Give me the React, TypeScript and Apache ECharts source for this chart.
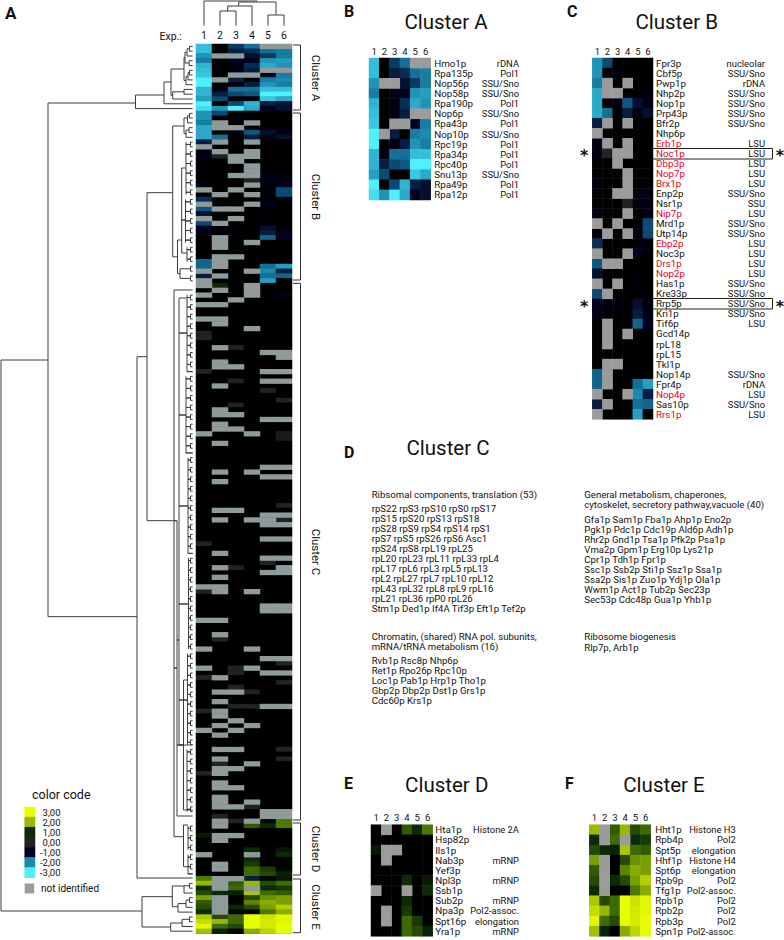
import React, { useEffect, useRef } from "react";
import * as echarts from "echarts";

const G = null; // not identified
const K = -0.5; // black cell
const D = 0; // dark grey cell

const experiments = ["1", "2", "3", "4", "5", "6"];

const clusterAGenes = ["Hmo1p", "Rpa135p", "Nop56p", "Nop58p", "Rpa190p", "Nop6p", "Rpa43p", "Nop10p", "Rpc19p", "Rpa34p", "Rpc40p", "Snu13p", "Rpa49p", "Rpa12p"];
const clusterANotes = ["rDNA", "Pol1", "SSU/Sno", "SSU/Sno", "Pol1", "SSU/Sno", "Pol1", "SSU/Sno", "Pol1", "Pol1", "Pol1", "SSU/Sno", "Pol1", "Pol1"];
const clusterARows = [
  [-2.5, K, -1.4, -1.8, G, G],
  [-2.5, K, -1.2, -1.3, -1.8, -1.9],
  [-2.1, G, G, -1.1, -1.4, -1.9],
  [-1.9, K, -1, -1, -2.1, -2.2],
  [-2.4, K, -0.7, -1.3, -2.3, -2.1],
  [-2.5, K, -0.8, -1.2, G, G],
  [-2.6, K, G, G, -1, -1.9],
  [-3, G, -1.2, K, -1.9, -2],
  [-3, K, -0.7, -1.2, -2.1, -1.9],
  [-2.4, -0.8, -1.8, -1.8, -2.5, -2.5],
  [-2.4, -1.2, -1.5, -1.6, -3, -3],
  [-2.2, -1.5, K, K, -2.6, -2.3],
  [-3, K, -1.5, -2.4, -1.2, -1.1],
  [-2.8, -2.1, -3, -2.3, -1, -1.1],
];

const clusterBGenes = ["Fpr3p", "Cbf5p", "Pwp1p", "Nhp2p", "Nop1p", "Prp43p", "Bfr2p", "Nhp6p", "Erb1p", "Noc1p", "Dbp3p", "Nop7p", "Brx1p", "Enp2p", "Nsr1p", "Nip7p", "Mrd1p", "Utp14p", "Ebp2p", "Noc3p", "Drs1p", "Nop2p", "Has1p", "Kre33p", "Rrp5p", "Kri1p", "Tif6p", "Gcd14p", "rpL18", "rpL15", "Tkl1p", "Nop14p", "Fpr4p", "Nop4p", "Sas10p", "Rrs1p"];
const clusterBNotes = ["nucleolar", "SSU/Sno", "rDNA", "SSU/Sno", "SSU/Sno", "SSU/Sno", "SSU/Sno", "", "LSU", "LSU", "LSU", "LSU", "LSU", "SSU/Sno", "SSU", "LSU", "SSU/Sno", "SSU/Sno", "LSU", "LSU", "LSU", "LSU", "SSU/Sno", "SSU/Sno", "SSU/Sno", "SSU/Sno", "LSU", "", "", "", "", "SSU/Sno", "rDNA", "LSU", "SSU/Sno", "LSU"];
const clusterBRed = ["Erb1p", "Noc1p", "Dbp3p", "Nop7p", "Brx1p", "Nip7p", "Ebp2p", "Drs1p", "Nop2p", "Nop4p", "Rrs1p"];
const clusterBRows = [
  [-2.1, -1.5, K, -0.7, K, K],
  [-2.1, -0.6, -0.7, K, K, K],
  [-1.9, G, K, G, K, K],
  [-2.3, G, G, K, -0.7, -0.7],
  [-2.3, K, -0.8, -1.6, -1.1, -0.8],
  [-2.3, -1.8, K, -1.2, -0.8, -1.1],
  [-1.2, G, K, G, K, K],
  [G, K, K, K, K, K],
  [-0.8, G, K, G, K, K],
  [-0.8, D, G, G, K, K],
  [K, K, G, K, K, K],
  [K, K, K, G, K, K],
  [-0.7, K, K, G, K, K],
  [K, K, G, G, -0.8, -0.8],
  [K, K, K, D, -0.8, -0.8],
  [-0.8, K, K, G, K, -0.8],
  [G, K, G, K, -0.7, -1.5],
  [-0.6, G, K, G, -0.7, -1.5],
  [-1.3, K, K, K, -0.7, -0.7],
  [G, K, K, G, -1, K],
  [-1.6, G, G, K, K, K],
  [-1.1, K, K, K, K, K],
  [G, K, G, K, -0.7, K],
  [-1.5, G, K, K, K, K],
  [-1, -0.6, -0.7, -0.6, -1.1, -0.6],
  [-0.8, -0.6, K, K, -1.2, -0.9],
  [K, G, K, K, -1.7, -1],
  [K, G, K, G, K, K],
  [K, G, K, K, K, K],
  [K, K, K, K, K, K],
  [K, G, G, K, K, K],
  [-1.7, G, K, K, K, K],
  [-1.7, G, K, K, -1.8, -2.2],
  [G, K, K, G, -2, -1.2],
  [-1.2, G, K, K, -1.8, -1.7],
  [G, K, K, K, -2.2, K],
];

const clusterCRows = [
  [G, 1, K, G, K, K], [K, G, K, G, K, K], [G, K, K, G, K, -0.9], [K, K, G, K, K, K],
  [G, G, K, K, K, K], [K, K, K, K, K, K], [K, K, K, K, K, K], [G, G, K, K, K, K],
  [K, G, K, K, K, K], [K, K, K, G, K, K], [D, K, K, K, K, K], [D, K, K, K, K, K],
  [K, K, K, K, K, K], [K, G, D, K, K, K], [K, K, K, K, G, G], [K, K, K, K, K, G],
  [K, G, K, K, K, K], [K, G, G, K, K, K], [D, K, K, K, G, G], [K, K, K, K, K, K],
  [K, K, D, K, G, G], [K, G, K, K, K, K], [K, K, K, K, D, K], [K, K, K, K, K, K],
  [K, K, K, K, K, D], [K, K, D, K, K, K], [K, G, K, K, K, K], [K, G, G, K, K, K],
  [K, K, K, K, G, G], [K, G, K, K, K, K], [K, G, G, K, K, K], [G, K, K, G, K, 0.1],
  [K, K, K, K, K, 0.1], [K, G, K, K, K, K], [K, K, K, K, K, K], [K, K, K, K, K, K],
  [K, K, K, K, K, K], [K, K, K, K, K, K], [K, K, K, K, G, G], [K, G, K, G, K, K],
  [K, K, K, K, G, G], [K, G, K, K, K, K], [K, K, K, K, K, K], [K, K, K, K, K, K],
  [K, K, K, K, K, K], [K, K, K, K, K, K], [K, K, K, K, K, D], [K, G, G, K, K, K],
  [K, K, K, K, G, G], [K, G, K, G, G, D], [K, K, K, K, G, G], [K, K, K, K, K, K],
  [K, K, K, K, K, K], [K, K, K, K, G, G], [D, K, K, K, K, K], [K, K, K, K, K, K],
  [K, G, K, K, K, K], [K, K, K, K, G, G], [K, K, K, K, D, K], [K, G, D, K, K, G],
  [K, K, K, K, G, G], [K, G, K, K, K, K], [K, K, K, K, K, K], [G, G, K, K, K, K],
  [D, G, K, G, K, K], [K, K, K, K, K, K], [K, K, K, K, K, K], [K, K, K, K, G, G],
  [K, K, K, K, G, G], [K, K, K, K, K, K], [G, G, K, K, K, K], [K, K, K, K, K, K],
  [K, K, K, K, K, K], [K, G, K, K, K, K], [K, D, K, K, K, K], [K, K, K, K, K, K],
  [G, K, K, G, K, K], [K, K, K, K, K, K], [K, K, K, K, G, G], [K, K, K, K, K, D],
  [G, K, D, G, K, K], [K, K, D, K, G, G], [D, G, K, K, K, K], [K, K, K, K, K, D],
  [K, K, D, K, K, K], [K, G, G, D, K, K], [K, K, K, K, K, K], [K, G, K, K, K, K],
  [K, K, D, D, G, G], [D, G, K, K, K, K], [K, G, K, K, K, K], [K, K, G, K, K, K],
  [K, G, K, G, K, K], [G, K, G, K, K, K], [K, G, K, K, K, K], [K, K, K, K, K, K],
  [K, K, K, K, K, K], [K, G, G, K, K, D], [K, K, K, K, K, K], [K, G, K, K, K, D],
  [K, D, K, G, K, K], [K, G, G, K, K, K], [D, G, K, K, K, K], [K, K, K, K, K, K],
  [K, G, K, K, K, K], [K, G, G, K, K, K], [K, K, K, K, K, K], [K, G, K, K, K, K],
  [K, G, K, G, K, K], [K, G, G, D, K, K], [K, K, K, K, G, G], [K, D, K, K, G, G],
];
const clusterCTailRow = [K, G, D, G, K, 1.5];

const clusterDGenes = ["Hta1p", "Hsp82p", "Ils1p", "Nab3p", "Yef3p", "Npl3p", "Ssb1p", "Sub2p", "Npa3p", "Spt16p", "Yra1p"];
const clusterDNotes = ["Histone 2A", "", "", "mRNP", "", "mRNP", "", "mRNP", "Pol2-assoc.", "elongation", "mRNP"];
const clusterDRows = [
  [K, G, K, 1.3, 1, 1.5],
  [K, K, K, K, K, K],
  [0.8, G, G, K, K, K],
  [K, G, K, K, K, K],
  [K, K, K, K, K, K],
  [K, K, K, 1, K, 0.8],
  [G, K, K, G, K, 1],
  [K, K, K, 1, K, K],
  [K, G, K, 1.1, K, K],
  [K, G, K, 1.4, 1.1, K],
  [K, K, K, 1.4, 1.2, 0.9],
];
const clusterDTailRow = [1.5, G, G, -1.2, K, 0.8];

const clusterEGenes = ["Hht1p", "Rpb4p", "Spt5p", "Hhf1p", "Spt6p", "Rpb9p", "Tfg1p", "Rpb1p", "Rpb2p", "Rpb3p", "Spn1p"];
const clusterENotes = ["Histone H3", "Pol2", "elongation", "Histone H4", "elongation", "Pol2", "Pol2-assoc.", "Pol2", "Pol2", "Pol2", "Pol2-assoc."];
const clusterERows = [
  [2, G, 1.3, 2, 1.2, 1.4],
  [1, G, 1.4, G, 1, 1.1],
  [1.2, 1, 0.9, 2.2, 1.4, 1.3],
  [1.8, G, K, 1.2, 1.7, 1.8],
  [1.3, G, K, 1.6, 1.9, 1.8],
  [1.2, G, 1, 1.2, 1.8, 2.3],
  [1, G, K, K, 1.5, 1.9],
  [2.2, 1.2, 1.4, 3, 2.6, 2.9],
  [2.5, 2, 1.4, 3, 2.7, 2.9],
  [2.9, 1.4, 1.2, 3, 2.7, 3],
  [2.1, 0.9, K, 1.9, 2.4, 3],
];

const legendValues = [3, 2, 1, 0, -1, -2, -3];
const legendLabels = ["3,00", "2,00", "1,00", "0,00", "-1,00", "-2,00", "-3,00"];
const scaleColors = ["#4ff0fa", "#35bedb", "#1a8aae", "#0b4a74", "#01011f", "#000000", "#222222", "#000000", "#0b2a05", "#4a7a00", "#9ab800", "#c6dc00", "#e8ff00"];

const ribosomalLines = ["rpS22 rpS3 rpS10 rpS0 rpS17", "rpS15 rpS20 rpS13 rpS18", "rpS28 rpS9 rpS4 rpS14 rpS1", "rpS7 rpS5 rpS26 rpS6 Asc1", "rpS24 rpS8 rpL19 rpL25", "rpL20 rpL23 rpL11 rpL33 rpL4", "rpL17 rpL6 rpL3 rpL5 rpL13", "rpL2 rpL27 rpL7 rpL10 rpL12", "rpL43 rpL32 rpL8 rpL9 rpL16", "rpL21 rpL36 rpP0 rpL26", "Stm1p Ded1p If4A Tif3p Eft1p Tef2p"];
const metabolismLines = ["Gfa1p Sam1p Fba1p Ahp1p Eno2p", "Pgk1p Pdc1p Cdc19p Ald6p Adh1p", "Rhr2p Gnd1p Tsa1p Pfk2p Psa1p", "Vma2p Gpm1p Erg10p Lys21p", "Cpr1p Tdh1p Fpr1p", "Ssc1p Ssb2p Sti1p Ssz1p Ssa1p", "Ssa2p Sis1p Zuo1p Ydj1p Ola1p", "Wwm1p Act1p Tub2p Sec23p", "Sec53p Cdc48p Gua1p Yhb1p"];
const chromatinLines = ["Rvb1p Rsc8p Nhp6p", "Ret1p Rpo26p Rpc10p", "Loc1p Pab1p Hrp1p Tho1p", "Gbp2p Dbp2p Dst1p Grs1p", "Cdc60p Krs1p"];

// dendrogram merges: [node position, first child, second child, first child depth, second child depth]
const leftTreeMerges = [
  [1, 360, 911, 48, 142],
  [48, 103, 616.7, 135.5, 137],
  [135.5, 95, 108.6, 164, 192.7],
  [164, 82, 103.8, 171, 192.7],
  [171, 69, 95.4, 184, 172.7],
  [172.7, 91.8, 99, 184, 192.7],
  [184, 89.4, 94.2, 192.7, 192.7],
  [184, 57.7, 80.5, 185, 186],
  [185, 52.4, 63, 187, 189],
  [187, 48.8, 56, 189.5, 192.7],
  [189.5, 46.4, 51.2, 192.7, 192.7],
  [189, 60.7, 65.5, 192.7, 192.7],
  [186, 76.3, 84.7, 188, 192.7],
  [188, 72.7, 79.9, 189.5, 192.7],
  [189.5, 70.3, 75.1, 192.7, 192.7],
  [137, 356.7, 878, 147, 192.7],
  [147, 192.7, 520.7, 172.7, 177],
  [172.7, 126, 256.8, 184, 177.5],
  [184, 118, 133.6, 187.5, 186],
  [187.5, 115.8, 122.9, 189.5, 192.7],
  [189.5, 113.4, 118.1, 192.7, 192.7],
  [186, 130, 137.3, 189, 192.7],
  [189, 127.7, 132.5, 192.7, 192.7],
  [177.5, 240, 273.6, 181.7, 180],
  [181.7, 168, 253, 186, 187],
  [181.7, 220, 220, 185.5, 185.5],
  [180, 268.8, 278.4, 190.5, 190.5],
  [190.5, 266.4, 271.2, 192.7, 192.7],
  [190.5, 276, 280.8, 192.7, 192.7],
  [174, 290, 836.7, 192.7, 183.5],
  [177, 520.7, 816, 174, 192.7],
  [174, 668, 668, 177, 177],
  [179, 298, 745, 186.5, 192.7],
  [177, 640, 640, 179, 179],
  [179, 333, 333, 187, 187],
  [179, 415, 415, 186, 186],
  [179, 506, 506, 188, 188],
  [179, 604, 604, 188.5, 188.5],
  [179, 700, 700, 187.5, 187.5],
  [177, 745, 745, 183.5, 183.5],
  [183.5, 680, 810, 187, 192.7],
  [183.5, 825, 866.7, 188, 188],
  [142, 896.7, 927, 172.3, 170.7],
  [172.3, 886, 906.7, 184, 178],
  [184, 885.8, 893, 189.5, 192.7],
  [189.5, 883.4, 888.2, 192.7, 192.7],
  [178, 903.6, 912.1, 186, 192.7],
  [186, 900, 907.3, 189.5, 192.7],
  [189.5, 897.7, 902.5, 192.7, 192.7],
  [170.7, 923, 931.2, 182, 192.7],
  [182, 919.3, 926.5, 189.5, 192.7],
  [189.5, 916.9, 921.7, 192.7, 192.7],
];
// [depth of the spine, first leaf row, last leaf row]
const leafGroups = [
  [186, 20, 31],
  [185.5, 32, 41],
  [187, 42, 45],
  [187, 52, 68],
  [186, 69, 85],
  [188, 86, 106],
  [188.5, 107, 126],
  [187.5, 127, 146],
  [187, 147, 160],
  [188, 163, 168],
  [188, 169, 173],
];
const topTreeMerges = [
  [1, 204, 257, 25.7, 2],
  [2, 238.7, 276, 6, 15],
  [6, 227.7, 252, 11, 25.7],
  [11, 220, 236, 25.7, 25.7],
  [15, 268, 284, 25.7, 25.7],
];

const FONT = "Roboto";
const INK = "#111111";
const mainTop = 44;
const rowH = 4.783;
const rowY = (r: number) => mainTop + rowH * (r + 0.5);

function leafMerges() {
  const out: number[][] = [];
  for (const [sx, a, b] of leafGroups) {
    out.push([sx, rowY(a), rowY(b), sx, sx]);
    for (let r = a; r <= b; r += 2) {
      if (r < b) {
        out.push([190.5, rowY(r), rowY(r + 1), 192.7, 192.7]);
        const m = (rowY(r) + rowY(r + 1)) / 2;
        out.push([sx, m, m, 190.5, 190.5]);
      } else {
        out.push([sx, rowY(r), rowY(r), 192.7, 192.7]);
      }
    }
  }
  return out;
}

const toCells = (rows: (number | null)[][]) => {
  const vals: number[][] = [];
  const gray: number[][] = [];
  rows.forEach((row, y) =>
    row.forEach((v, x) => {
      if (v === null) gray.push([x, y, 1]);
      else vals.push([x, y, v]);
    }),
  );
  return { vals, gray };
};

const mainRows = [...clusterARows, ...clusterBRows, ...clusterCRows, clusterCTailRow, ...clusterDRows, clusterDTailRow, ...clusterERows];
const mainLabels = mainRows.map((_, i) => String(i));

const panels = [
  { rows: clusterARows, genes: clusterAGenes, notes: clusterANotes, left: 369, top: 58, w: 61.7, h: 142, nameM: 3.5, noteM: 88.3, red: [] as string[] },
  { rows: clusterBRows, genes: clusterBGenes, notes: clusterBNotes, left: 592.3, top: 58, w: 60.7, h: 361.3, nameM: 3, noteM: 112, red: clusterBRed },
  { rows: clusterDRows, genes: clusterDGenes, notes: clusterDNotes, left: 371, top: 824.7, w: 61.7, h: 111.6, nameM: 2.5, noteM: 86.3, red: [] as string[] },
  { rows: clusterERows, genes: clusterEGenes, notes: clusterENotes, left: 589.3, top: 824.7, w: 61.4, h: 111.6, nameM: 4.5, noteM: 85, red: [] as string[] },
];

function txt(text: string, x: number, y: number, size: number, extra: any = {}) {
  return {
    type: "text",
    x,
    y,
    rotation: extra.rotation ?? 0,
    silent: true,
    style: {
      text,
      fill: extra.fill ?? INK,
      font: `${extra.weight ?? "normal"} ${size}px ${extra.family ?? FONT}`,
      textAlign: extra.align ?? "left",
      textVerticalAlign: "middle",
    },
  };
}

function buildOption() {
  const hidden = { show: false };
  const grid: any[] = [{ left: 0, top: 0, width: 784, height: 940 }];
  const xAxis: any[] = [{ type: "value", gridIndex: 0, min: 0, max: 784, show: false }];
  const yAxis: any[] = [{ type: "value", gridIndex: 0, min: 0, max: 940, inverse: true, show: false }];
  const series: any[] = [];

  series.push({
    type: "custom",
    xAxisIndex: 0,
    yAxisIndex: 0,
    clip: false,
    silent: true,
    encode: { x: [0, 3, 4], y: [1, 2] },
    data: [...leftTreeMerges, ...leafMerges()],
    renderItem: (_: any, api: any) => {
      const [x, y1, y2, c1, c2] = [0, 1, 2, 3, 4].map((i) => api.value(i));
      const pts = [[c1, y1], [x, y1], [x, y2], [c2, y2]].map((p) => api.coord(p));
      return { type: "polyline", silent: true, shape: { points: pts }, style: { stroke: "#3c3c3c", lineWidth: 1, fill: "none" } };
    },
  });
  series.push({
    type: "custom",
    xAxisIndex: 0,
    yAxisIndex: 0,
    clip: false,
    silent: true,
    encode: { y: [0, 3, 4], x: [1, 2] },
    data: topTreeMerges,
    renderItem: (_: any, api: any) => {
      const [y, x1, x2, c1, c2] = [0, 1, 2, 3, 4].map((i) => api.value(i));
      const pts = [[x1, c1], [x1, y], [x2, y], [x2, c2]].map((p) => api.coord(p));
      return { type: "polyline", silent: true, shape: { points: pts }, style: { stroke: "#3c3c3c", lineWidth: 1, fill: "none" } };
    },
  });

  const mapped: number[] = [];
  const grayMain: number[] = [];
  const grayPanel: number[] = [];
  const addHeat = (cells: { vals: number[][]; gray: number[][] }, xi: number, yi: number, grayList: number[]) => {
    mapped.push(series.length);
    series.push({ type: "heatmap", xAxisIndex: xi, yAxisIndex: yi, data: cells.vals, silent: true, progressive: 0, emphasis: { disabled: true } });
    grayList.push(series.length);
    series.push({ type: "heatmap", xAxisIndex: xi, yAxisIndex: yi, data: cells.gray, silent: true, progressive: 0, emphasis: { disabled: true } });
  };

  // main matrix
  grid.push({ left: 196, top: mainTop, width: 96, height: rowH * mainRows.length, show: true, backgroundColor: "#000", borderWidth: 0 });
  xAxis.push({
    type: "category", gridIndex: 1, position: "top", data: experiments,
    axisLine: hidden, axisTick: hidden, splitLine: hidden,
    axisLabel: { interval: 0, margin: 3, fontFamily: FONT, fontSize: 10.5, color: INK },
  });
  yAxis.push({ type: "category", gridIndex: 1, inverse: true, data: mainLabels, show: false });
  addHeat(toCells(mainRows), 1, 1, grayMain);

  // detail panels
  panels.forEach((p) => {
    const gi = grid.length;
    grid.push({ left: p.left, top: p.top, width: p.w, height: p.h });
    xAxis.push({
      type: "category", gridIndex: gi, position: "top", data: experiments,
      axisLine: hidden, axisTick: hidden, splitLine: hidden,
      axisLabel: { interval: 0, margin: 2, fontFamily: FONT, fontSize: 9.5, color: INK },
    });
    const yi = yAxis.length;
    yAxis.push({
      type: "category", gridIndex: gi, inverse: true, position: "right", data: p.genes,
      axisLine: hidden, axisTick: hidden, splitLine: hidden,
      axisLabel: {
        interval: 0, margin: p.nameM, fontFamily: FONT, fontSize: 9.8, align: "left",
        color: (v: string) => (p.red.includes(v) ? "#e2001a" : INK),
      },
    });
    yAxis.push({
      type: "category", gridIndex: gi, inverse: true, position: "right", data: p.notes,
      axisLine: hidden, axisTick: hidden, splitLine: hidden,
      axisLabel: { interval: 0, margin: p.noteM, fontFamily: FONT, fontSize: 9.4, align: "right", color: INK },
    });
    addHeat(toCells(p.rows), gi, yi, grayPanel);
  });

  // colour legend
  const lg = grid.length;
  grid.push({ left: 24.7, top: 807, width: 10.3, height: 70.7 });
  xAxis.push({ type: "category", gridIndex: lg, data: [""], show: false });
  const lyi = yAxis.length;
  yAxis.push({
    type: "category", gridIndex: lg, inverse: true, position: "right", data: legendLabels,
    axisLine: hidden, axisTick: hidden, splitLine: hidden,
    axisLabel: { interval: 0, margin: 25.5, fontFamily: FONT, fontSize: 9.5, align: "right", color: INK },
  });
  mapped.push(series.length);
  series.push({ type: "heatmap", xAxisIndex: lg, yAxisIndex: lyi, silent: true, progressive: 0, emphasis: { disabled: true }, data: legendValues.map((v, i) => [0, i, v]) });

  const starFont = { align: "center", family: "DejaVu Sans", weight: "bold" };
  const graphics: any[] = [
    txt("A", 5, 12.5, 17, { weight: "bold" }),
    txt("B", 344, 11.5, 16, { weight: "bold" }),
    txt("C", 567, 11.5, 16, { weight: "bold" }),
    txt("D", 344, 452.5, 16, { weight: "bold" }),
    txt("E", 344, 783, 16, { weight: "bold" }),
    txt("F", 565, 783, 16, { weight: "bold" }),
    txt("Cluster A", 446, 22, 20.5, { align: "center" }),
    txt("Cluster B", 676.7, 22, 20.5, { align: "center" }),
    txt("Cluster C", 448, 448, 20.5, { align: "center" }),
    txt("Cluster D", 446.7, 785, 20.5, { align: "center" }),
    txt("Cluster E", 664, 785, 20.5, { align: "center" }),
    txt("Exp.:", 159.5, 36, 10.5),
    txt("Cluster A", 316, 78, 11.5, { align: "center", rotation: -Math.PI / 2 }),
    txt("Cluster B", 316, 197, 11.5, { align: "center", rotation: -Math.PI / 2 }),
    txt("Cluster C", 316, 552, 11.5, { align: "center", rotation: -Math.PI / 2 }),
    txt("Cluster D", 316, 849, 11.5, { align: "center", rotation: -Math.PI / 2 }),
    txt("Cluster E", 316, 907, 11.5, { align: "center", rotation: -Math.PI / 2 }),
    txt("color code", 32, 794.7, 12.5),
    txt("not identified", 41, 888.7, 10),
    { type: "rect", silent: true, shape: { x: 24.7, y: 883.5, width: 9.5, height: 10 }, style: { fill: "#9b9b9b" } },
    txt("Ribsomal components, translation (53)", 371.7, 494, 9.6),
    txt("General metabolism, chaperones,", 584.3, 494, 9.6),
    txt("cytoskelet, secretory pathway,vacuole (40)", 584.3, 504.6, 9.6),
    txt("Chromatin, (shared) RNA pol. subunits,", 371.7, 636, 9.6),
    txt("mRNA/tRNA metabolism (16)", 371.7, 646, 9.6),
    txt("Ribosome biogenesis", 584.3, 636, 9.6),
    txt("Rlp7p, Arb1p", 584.3, 647, 9.6),
    { type: "rect", silent: true, shape: { x: 592.5, y: 148.5, width: 180, height: 10.5 }, style: { fill: "none", stroke: "#222", lineWidth: 1 } },
    { type: "rect", silent: true, shape: { x: 592.5, y: 298.5, width: 180, height: 10.5 }, style: { fill: "none", stroke: "#222", lineWidth: 1 } },
    txt("*", 584.3, 155.5, 16, starFont),
    txt("*", 780, 155.5, 16, starFont),
    txt("*", 584.3, 306, 16, starFont),
    txt("*", 780, 306, 16, starFont),
  ];
  ribosomalLines.forEach((l, i) => graphics.push(txt(l, 371.7, 508.3 + i * 10, 9.6)));
  metabolismLines.forEach((l, i) => graphics.push(txt(l, 584.3, 519.3 + i * 10, 9.6)));
  chromatinLines.forEach((l, i) => graphics.push(txt(l, 371.7, 660 + i * 10, 9.6)));

  // cluster brackets beside the main matrix
  const brackets = [[45, 110], [113, 280], [283.3, 820], [823, 875], [879, 932.7]];
  brackets.forEach(([a, b]) =>
    graphics.push({
      type: "polyline", silent: true,
      shape: { points: [[293, a], [300.5, a], [300.5, b], [293, b]] },
      style: { fill: "none", stroke: "#333", lineWidth: 1 },
    }),
  );

  return {
    animation: false,
    backgroundColor: "#ffffff",
    grid,
    xAxis,
    yAxis,
    visualMap: [
      { type: "continuous", show: false, min: -3, max: 3, dimension: 2, seriesIndex: mapped, inRange: { color: scaleColors } },
      { type: "continuous", show: false, min: 0, max: 2, dimension: 2, seriesIndex: grayMain, inRange: { color: ["#8f9b9a", "#8f9b9a"] } },
      { type: "continuous", show: false, min: 0, max: 2, dimension: 2, seriesIndex: grayPanel, inRange: { color: ["#9b9b9b", "#9b9b9b"] } },
    ],
    series,
    graphic: graphics,
  };
}

export default function App() {
  const ref = useRef<HTMLDivElement>(null);
  useEffect(() => {
    document.body.style.margin = "0";
    const chart = echarts.init(ref.current!, undefined, { renderer: "svg" });
    chart.setOption(buildOption() as any);
    return () => chart.dispose();
  }, []);
  return <div ref={ref} style={{ width: 784, height: 940 }} />;
}
